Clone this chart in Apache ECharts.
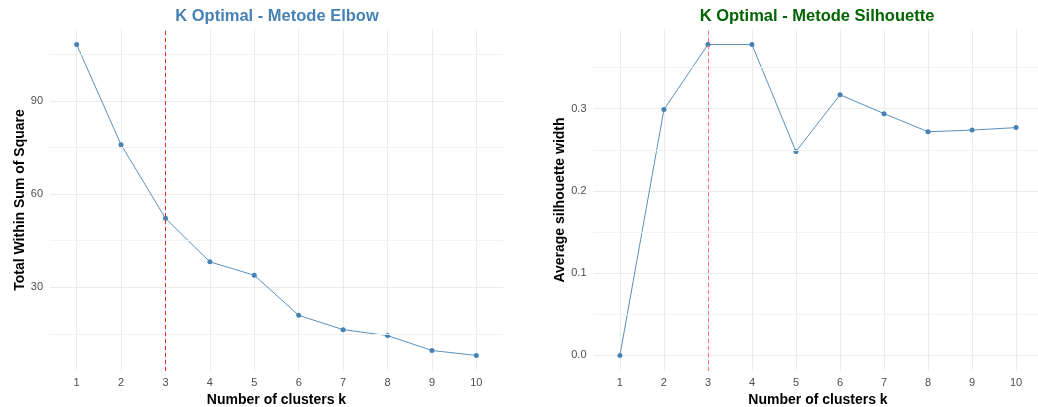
<!DOCTYPE html>
<html>
<head>
<meta charset="utf-8">
<script src="https://cdn.jsdelivr.net/npm/echarts@6/dist/echarts.min.js"></script>
<style>
html,body{margin:0;padding:0;background:#fff;}
#c{width:1038px;height:407px;}
</style>
</head>
<body>
<div id="c"></div>
<script>
// ---- data ----
const kValues = [1, 2, 3, 4, 5, 6, 7, 8, 9, 10];
const elbowWSS = [108.1, 75.9, 52.2, 38.2, 33.9, 21.0, 16.4, 14.5, 9.7, 8.1];
const silhouetteWidth = [0.0, 0.299, 0.378, 0.378, 0.248, 0.317, 0.294, 0.272, 0.274, 0.277];
const optimalK = 3;
const elbowYTicks = [30, 60, 90];
const elbowYMinor = [15, 45, 75, 105];
const silYTicks = [0.0, 0.1, 0.2, 0.3];
const silYMinor = [0.05, 0.15, 0.25, 0.35];
const titles = ['K Optimal - Metode Elbow', 'K Optimal - Metode Silhouette'];
const xTitle = 'Number of clusters k';
const yTitles = ['Total Within Sum of Square', 'Average silhouette width'];

const FONT = 'Liberation Sans, Arial, sans-serif';
const steel = '#4682B4';

function pad(arr, frac) {
  const lo = Math.min(...arr), hi = Math.max(...arr);
  const d = (hi - lo) * frac;
  return [lo - d, hi + d];
}
const eR = pad(elbowWSS, 0.05);
const sR = pad(silhouetteWidth, 0.05);

function xAxisCfg(gi) {
  return {
    type: 'value', gridIndex: gi, min: 0.4, max: 10.6,
    name: xTitle, nameLocation: 'middle', nameGap: 18,
    nameTextStyle: {fontFamily: FONT, fontWeight: 'bold', fontSize: 14, color: '#000'},
    axisLine: {show: false},
    axisTick: {show: false, customValues: kValues},
    axisLabel: {customValues: kValues, fontFamily: FONT, fontSize: 11, color: '#4d4d4d', margin: 6},
    splitLine: {show: true, lineStyle: {color: '#ebebeb', width: 1}}
  };
}
function yAxisCfg(gi, rng, ticks, fmt, name, gap) {
  return {
    type: 'value', gridIndex: gi, min: rng[0], max: rng[1],
    name: name, nameLocation: 'middle', nameGap: gap, nameRotate: 90,
    nameTextStyle: {fontFamily: FONT, fontWeight: 'bold', fontSize: 14, color: '#000'},
    axisLine: {show: false},
    axisTick: {show: false, customValues: ticks},
    axisLabel: {customValues: ticks, formatter: fmt, fontFamily: FONT, fontSize: 11, color: '#4d4d4d', margin: 7},
    splitLine: {show: true, lineStyle: {color: '#ebebeb', width: 1}}
  };
}
function minorLines(vals) {
  return vals.map(v => ({yAxis: v}));
}

const chart = echarts.init(document.getElementById('c'), null, {renderer: 'canvas'});
chart.setOption({
  animation: false,
  backgroundColor: '#fff',
  title: [
    {text: titles[0], left: 277, top: 8, padding: 0, textAlign: 'center',
     textStyle: {fontFamily: FONT, fontWeight: 'bold', fontSize: 16.5, color: steel}},
    {text: titles[1], left: 817, top: 8, padding: 0, textAlign: 'center',
     textStyle: {fontFamily: FONT, fontWeight: 'bold', fontSize: 16.5, color: '#006400'}}
  ],
  grid: [
    {left: 50, width: 453, top: 29, height: 342, outerBoundsMode: 'none', containLabel: false},
    {left: 593.5, width: 449, top: 29, height: 342, outerBoundsMode: 'none', containLabel: false}
  ],
  xAxis: [xAxisCfg(0), xAxisCfg(1)],
  yAxis: [
    yAxisCfg(0, eR, elbowYTicks, v => String(Math.round(v)), yTitles[0], 20),
    yAxisCfg(1, sR, silYTicks, v => v.toFixed(1), yTitles[1], 21)
  ],
  series: [
    {
      type: 'line', xAxisIndex: 0, yAxisIndex: 0, silent: true,
      data: [],
      markLine: {symbol: 'none', silent: true, label: {show: false},
        lineStyle: {color: '#f2f2f2', width: 1, type: 'solid'},
        data: minorLines(elbowYMinor)}
    },
    {
      type: 'line', xAxisIndex: 1, yAxisIndex: 1, silent: true,
      data: [],
      markLine: {symbol: 'none', silent: true, label: {show: false},
        lineStyle: {color: '#f2f2f2', width: 1, type: 'solid'},
        data: minorLines(silYMinor)}
    },
    {
      type: 'line', xAxisIndex: 0, yAxisIndex: 0, z: 3,
      data: kValues.map((k, i) => [k, elbowWSS[i]]),
      lineStyle: {color: steel, width: 0.9},
      itemStyle: {color: steel},
      symbol: 'circle', symbolSize: 5, showSymbol: true,
      markLine: {symbol: 'none', silent: true, label: {show: false},
        lineStyle: {color: '#e02b2b', width: 1, type: [4, 3]},
        data: [{xAxis: optimalK}]}
    },
    {
      type: 'line', xAxisIndex: 1, yAxisIndex: 1, z: 3,
      data: kValues.map((k, i) => [k, silhouetteWidth[i]]),
      lineStyle: {color: steel, width: 0.9},
      itemStyle: {color: steel},
      symbol: 'circle', symbolSize: 5, showSymbol: true,
      markLine: {symbol: 'none', silent: true, label: {show: false},
        lineStyle: {color: '#ff7070', width: 1, type: [4, 3]},
        data: [{xAxis: optimalK}]}
    }
  ]
});
</script>
</body>
</html>
